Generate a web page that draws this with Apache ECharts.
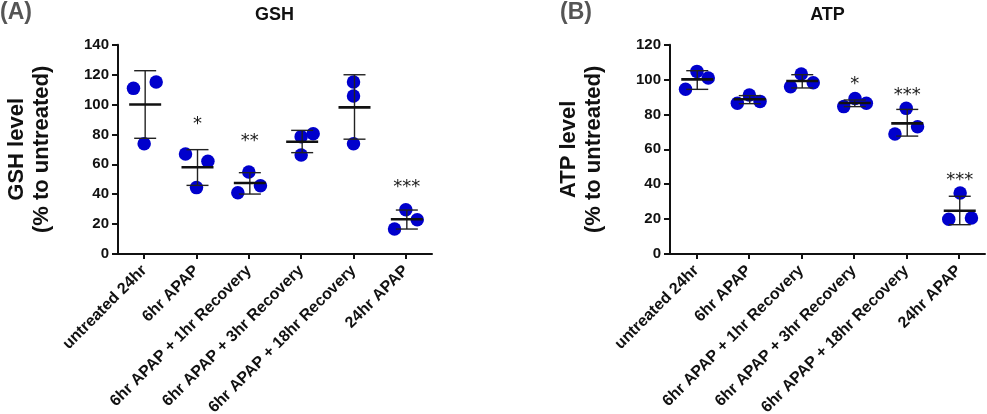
<!DOCTYPE html>
<html><head><meta charset="utf-8">
<script src="https://cdn.jsdelivr.net/npm/echarts@6.0.0/dist/echarts.min.js"></script>
<style>html,body{margin:0;padding:0;background:#fff}#c{width:987px;height:414px}</style>
</head><body><div id="c"></div>
<script>
const categories = ['untreated 24hr','6hr APAP','6hr APAP + 1hr Recovery','6hr APAP + 3hr Recovery','6hr APAP + 18hr Recovery','24hr APAP'];

// GSH panel (A)
const gshPoints = [[110.8,115.0,73.8],[66.9,62.0,44.4],[41.0,54.8,45.7],[78.5,80.5,66.2],[115.0,105.7,73.8],[29.6,22.9,16.7]];
const gshMean   = [100.0,58.0,47.5,75.1,98.1,23.2];
const gshErrHi  = [122.6,69.8,54.4,82.7,119.9,29.4];
const gshErrLo  = [77.4,45.9,40.1,67.8,76.8,16.7];
const gshSig    = ['','*','**','','','***'];
const gshSigY   = [null,89.6,78.5,null,null,48.0];
const gshTicks  = {min:0,max:140,interval:20};

// ATP panel (B)
const atpPoints = [[104.7,100.9,94.4],[91.2,86.4,87.5],[103.2,95.9,98.2],[89.2,84.5,86.4],[83.5,68.8,73.0],[35.0,19.9,20.6]];
const atpMean   = [100.1,88.7,99.2,86.6,74.9,24.8];
const atpErrHi  = [105.1,90.8,102.8,88.3,82.9,33.1];
const atpErrLo  = [94.4,86.2,95.2,84.5,67.6,16.8];
const atpSig    = ['','','','*','***','***'];
const atpSigY   = [null,null,null,99.8,93.6,45.1];
const atpTicks  = {min:0,max:120,interval:20};

// horizontal jitter of the dots (pixels) - layout only
const gshJitter = [[-10.7,12,0],[-11,11.4,0],[-11,0,11.6],[0,12,0],[0,0,0],[0,11.4,-11.3]];
const atpJitter = [[0.7,12,-10.7],[0.6,-11.4,11.3],[0,-10.7,12],[1.3,-10,12.6],[0,-11.3,11.3],[1.4,-10,12.7]];

const FONT = 'Liberation Sans';
const INK = '#111';
const DOT = '#0000CC';

function pointData(points, jit){
  const d = [];
  points.forEach((arr,i)=>arr.forEach((v,k)=>d.push({value:[i,v], symbolOffset:[jit[i][k],0]})));
  return d;
}
function statsSeries(idx, mean, lo, hi, sig, sigY){
  return {
    type:'custom', xAxisIndex:idx, yAxisIndex:idx, z:5, silent:true,
    data: mean.map((m,i)=>[i,m,lo[i],hi[i]]),
    renderItem(params, api){
      const i = api.value(0);
      const pm = api.coord([i, api.value(1)]);
      const pl = api.coord([i, api.value(2)]);
      const ph = api.coord([i, api.value(3)]);
      const x = pm[0] + 1;
      const thin = {stroke:'#222', lineWidth:1.4};
      const ch = [
        {type:'line', shape:{x1:x,y1:ph[1],x2:x,y2:pl[1]}, style:thin},
        {type:'line', shape:{x1:x-11,y1:ph[1],x2:x+11,y2:ph[1]}, style:thin},
        {type:'line', shape:{x1:x-11,y1:pl[1],x2:x+11,y2:pl[1]}, style:thin},
        {type:'line', shape:{x1:pm[0]-15,y1:pm[1],x2:pm[0]+17,y2:pm[1]}, style:{stroke:INK, lineWidth:2.6}}
      ];
      if (sig[i]) {
        const ps = api.coord([i, sigY[i]]);
        ch.push({type:'text', style:{text:sig[i], x:ps[0]+1, y:ps[1]+4.7, align:'center', verticalAlign:'middle',
          font:'18px "DejaVu Sans"', fill:'#1a1a1a'}});
      }
      return {type:'group', children:ch};
    }
  };
}
function yAxis(idx, t, name){
  return {gridIndex:idx, type:'value', min:t.min, max:t.max, interval:t.interval,
    axisLine:{show:true, lineStyle:{color:INK, width:2}},
    axisTick:{show:true, length:6, lineStyle:{color:INK, width:2}},
    splitLine:{show:false},
    axisLabel:{color:INK, fontSize:15, fontWeight:'bold', fontFamily:FONT, margin:9},
    name:name, nameLocation:'middle', nameRotate:90, nameGap:64,
    nameTextStyle:{fontSize:22, fontWeight:'bold', color:INK, fontFamily:FONT, lineHeight:25}};
}
function xAxis(idx){
  return {gridIndex:idx, type:'category', data:categories, boundaryGap:true,
    axisLine:{show:true, lineStyle:{color:INK, width:2}},
    axisTick:{show:true, alignWithLabel:true, length:5, lineStyle:{color:INK, width:2}},
    splitLine:{show:false},
    axisLabel:{interval:0, rotate:45, color:INK, fontSize:16, fontWeight:'bold', fontFamily:FONT, margin:14}};
}

const chart = echarts.init(document.getElementById('c'), null, {renderer:'canvas'});
chart.setOption({
  backgroundColor:'#fff',
  animation:false,
  title:[
    {text:'GSH', left:274.5, top:6, padding:0, textAlign:'center', textStyle:{fontSize:18, fontWeight:'bold', color:INK, fontFamily:FONT}},
    {text:'ATP', left:827.5, top:6, padding:0, textAlign:'center', textStyle:{fontSize:18, fontWeight:'bold', color:INK, fontFamily:FONT}},
    {text:'(A)', left:0, top:1, padding:0, textStyle:{fontSize:23, fontWeight:'bold', color:'#555', fontFamily:FONT}},
    {text:'(B)', left:560, top:1, padding:0, textStyle:{fontSize:23, fontWeight:'bold', color:'#555', fontFamily:FONT}}
  ],
  grid:[
    {left:118, top:44.7, width:314, height:209.3, containLabel:false, outerBoundsMode:'none'},
    {left:670, top:44.7, width:315, height:209.3, containLabel:false, outerBoundsMode:'none'}
  ],
  xAxis:[xAxis(0), xAxis(1)],
  yAxis:[yAxis(0, gshTicks, 'GSH level\n(% to untreated)'), yAxis(1, atpTicks, 'ATP level\n(% to untreated)')],
  series:[
    {type:'scatter', xAxisIndex:0, yAxisIndex:0, symbol:'circle', symbolSize:13.5, itemStyle:{color:DOT, opacity:1}, z:2,
      data:pointData(gshPoints, gshJitter)},
    statsSeries(0, gshMean, gshErrLo, gshErrHi, gshSig, gshSigY),
    {type:'scatter', xAxisIndex:1, yAxisIndex:1, symbol:'circle', symbolSize:13.5, itemStyle:{color:DOT, opacity:1}, z:2,
      data:pointData(atpPoints, atpJitter)},
    statsSeries(1, atpMean, atpErrLo, atpErrHi, atpSig, atpSigY)
  ]
});
</script>
</body></html>
